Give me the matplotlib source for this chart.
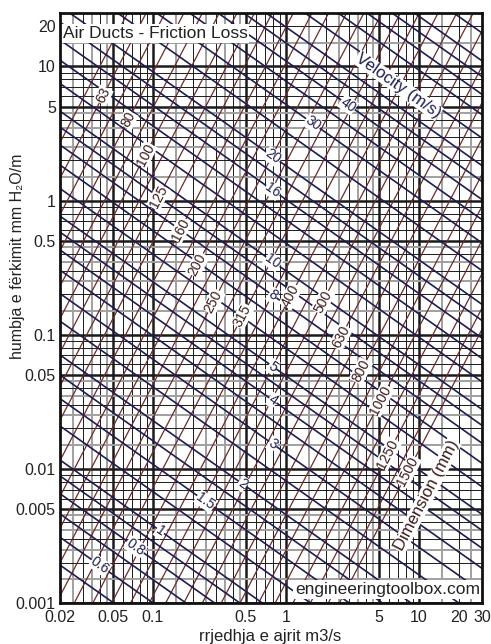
import matplotlib
matplotlib.use('Agg')
import matplotlib.pyplot as plt
import numpy as np

plt.rcParams['font.family'] = ['Liberation Sans', 'DejaVu Sans']

# cores
navy = '#1d1d52'
brick = '#6f2a2a'
grid_dark = '#1a1a1a'
grid_grey = '#a0a0a0'

# eixos (vazao m3/s, perda mm H2O/m)
x_ticks = [0.02, 0.05, 0.1, 0.5, 1, 5, 10, 20, 30]
x_labels = ['0.02', '0.05', '0.1', '0.5', '1', '5', '10', '20', '30']
y_ticks = [0.001, 0.005, 0.01, 0.05, 0.1, 0.5, 1, 5, 10, 20]
y_labels = ['0.001', '0.005', '0.01', '0.05', '0.1', '0.5', '1', '5', '10', '20']

# linhas de velocidade: perda lida onde cruzam Q = 1 m3/s
velocity = [0.5, 0.6, 0.7, 0.8, 0.9, 1, 1.25, 1.5, 1.75, 2, 2.5, 3, 3.5, 4, 4.5, 5,
            6, 7, 8, 9, 10, 12, 14, 16, 18, 20, 25, 30, 35, 40, 45, 50,
            60, 70, 80, 90, 100, 120]
vel_dp_at_q1 = [1.24e-4, 2.0e-4, 2.98e-4, 4.22e-4, 5.73e-4, 7.53e-4, 1.35e-3, 2.16e-3,
                3.23e-3, 4.57e-3, 8.16e-3, 0.0131, 0.0196, 0.0277, 0.0376, 0.0495,
                0.0795, 0.119, 0.168, 0.228, 0.300, 0.482, 0.719, 1.02, 1.38, 1.82,
                3.25, 5.22, 7.79, 11.0, 15.0, 19.7, 31.6, 47.2, 66.9, 90.8, 119, 192]
vel_slope = -0.7

# linhas de diametro: vazao lida onde cruzam 0.1 mm H2O/m
dimension = [56, 63, 71, 80, 90, 100, 112, 125, 140, 160, 180, 200, 224, 250, 280,
             315, 355, 400, 450, 500, 560, 630, 710, 800, 900, 1000, 1120, 1250,
             1400, 1500]
dim_q_at_dp01 = [0.00353, 0.00487, 0.00676, 0.00937, 0.0129, 0.0173, 0.0235, 0.0318,
                 0.0433, 0.0624, 0.0862, 0.115, 0.157, 0.212, 0.289, 0.399, 0.553,
                 0.767, 1.06, 1.41, 1.93, 2.66, 3.69, 5.11, 7.05, 9.41, 12.8, 17.3,
                 23.6, 28.6]
dim_slope = 1.9

# rotulos: valor e vazao onde o rotulo aparece
vel_label_vals = [0.6, 0.8, 1, 1.5, 2, 3, 4, 5, 8, 10, 16, 20, 30, 40]
vel_label_q = [0.040, 0.074, 0.114, 0.249, 0.473, 0.80, 0.80, 0.80, 0.80, 0.80, 0.80,
               0.80, 1.6, 2.94]
dim_label_vals = [63, 80, 100, 125, 160, 200, 250, 315, 400, 500, 630, 800, 1000, 1250, 1500]
dim_label_q = [0.0423, 0.0653, 0.0878, 0.110, 0.161, 0.217, 0.286, 0.473, 1.09, 1.90,
               2.60, 3.68, 5.21, 5.89, 8.33]

fig = plt.figure(figsize=(4.91, 6.44), dpi=100, facecolor='white')
ax = fig.add_axes([60 / 491, 41 / 644, 422 / 491, 590 / 644])
ax.set_xscale('log')
ax.set_yscale('log')
ax.set_xlim(0.02, 30)
ax.set_ylim(0.001, 25)

# grade
for dec in [0.01, 0.1, 1, 10]:
    for m in [1.5, 2.5, 3.5, 4.5]:
        ax.axvline(dec * m, color=grid_grey, lw=1.4, zorder=1)
    for m in [2, 3, 4, 6, 7, 8, 9]:
        ax.axvline(dec * m, color=grid_dark, lw=0.7, zorder=1)
    for m in [1, 5]:
        ax.axvline(dec * m, color=grid_dark, lw=1.8, zorder=1)
for dec in [0.001, 0.01, 0.1, 1, 10]:
    for m in [1.5, 2.5, 3.5, 4.5]:
        ax.axhline(dec * m, color=grid_grey, lw=1.4, zorder=1)
    for m in [2, 3, 4, 6, 7, 8, 9]:
        ax.axhline(dec * m, color=grid_dark, lw=0.7, zorder=1)
    for m in [1, 5]:
        ax.axhline(dec * m, color=grid_dark, lw=1.8, zorder=1)

q_ends = np.array([0.02, 30.0])

for v, a in zip(velocity, vel_dp_at_q1):
    ax.plot(q_ends, a * q_ends ** vel_slope, color=navy, lw=1.2, zorder=3)

for d, q0 in zip(dimension, dim_q_at_dp01):
    ax.plot(q_ends, 0.1 * (q_ends / q0) ** dim_slope, color=brick, lw=0.9, zorder=2)


def angle(q, dp, slope):
    p1 = ax.transData.transform((q, dp))
    p2 = ax.transData.transform((q * 2, dp * 2 ** slope))
    return np.degrees(np.arctan2(p2[1] - p1[1], p2[0] - p1[0]))


box = dict(facecolor='white', edgecolor='none', pad=0.4)

for v, q in zip(vel_label_vals, vel_label_q):
    a = vel_dp_at_q1[velocity.index(v)]
    dp = a * q ** vel_slope
    ax.text(q, dp, f'{v:g}', color=navy, fontsize=10, ha='center', va='center',
            rotation=angle(q, dp, vel_slope), rotation_mode='anchor', bbox=box, zorder=5)

for d, q in zip(dim_label_vals, dim_label_q):
    q0 = dim_q_at_dp01[dimension.index(d)]
    dp = 0.1 * (q / q0) ** dim_slope
    ax.text(q, dp, str(d), color='#3a1a1a', fontsize=10, ha='center', va='center',
            rotation=angle(q, dp, dim_slope), rotation_mode='anchor', bbox=box, zorder=5)

ax.text(7.0, 7.2, 'Velocity (m/s)', color=navy, fontsize=12, ha='center', va='center',
        rotation=angle(7.0, 7.2, vel_slope), rotation_mode='anchor', bbox=box, zorder=5)
ax.text(11.4, 0.0063, 'Dimension (mm)', color='#3a1a1a', fontsize=12, ha='center',
        va='center', rotation=angle(11.4, 0.0063, dim_slope), rotation_mode='anchor',
        bbox=box, zorder=5)

ax.text(0.006, 0.978, 'Air Ducts - Friction Loss', transform=ax.transAxes, fontsize=12.5,
        color='#222222', ha='left', va='top',
        bbox=dict(facecolor='white', edgecolor='none', pad=1.2), zorder=6)
ax.text(0.995, 0.01, 'engineeringtoolbox.com', transform=ax.transAxes, fontsize=12.5,
        color='#222222', ha='right', va='bottom',
        bbox=dict(facecolor='white', edgecolor='none', pad=1.2), zorder=6)

ax.set_xticks(x_ticks)
ax.set_xticklabels(x_labels)
ax.set_yticks(y_ticks)
ax.set_yticklabels(y_labels)
ax.minorticks_off()
ax.tick_params(axis='y', length=0, labelsize=11.5, labelcolor='#222222', pad=3)
ax.tick_params(axis='x', length=0, labelsize=11.5, labelcolor='#222222', pad=5)

ax.set_xlabel('rrjedhja e ajrit m3/s', fontsize=12, color='#222222')
ax.xaxis.set_label_coords(0.497, -0.057)
ax.xaxis.label.set_va('center')
ax.set_ylabel('humbja e fërkimit mm H\u2082O/m', fontsize=11.5, color='#222222')
ax.yaxis.set_label_coords(-0.1, 0.588)
ax.yaxis.label.set_va('center')

for s in ax.spines.values():
    s.set_linewidth(2)
    s.set_color('#111111')
    s.set_zorder(7)

fig.savefig('out.png', dpi=100, facecolor='white')
